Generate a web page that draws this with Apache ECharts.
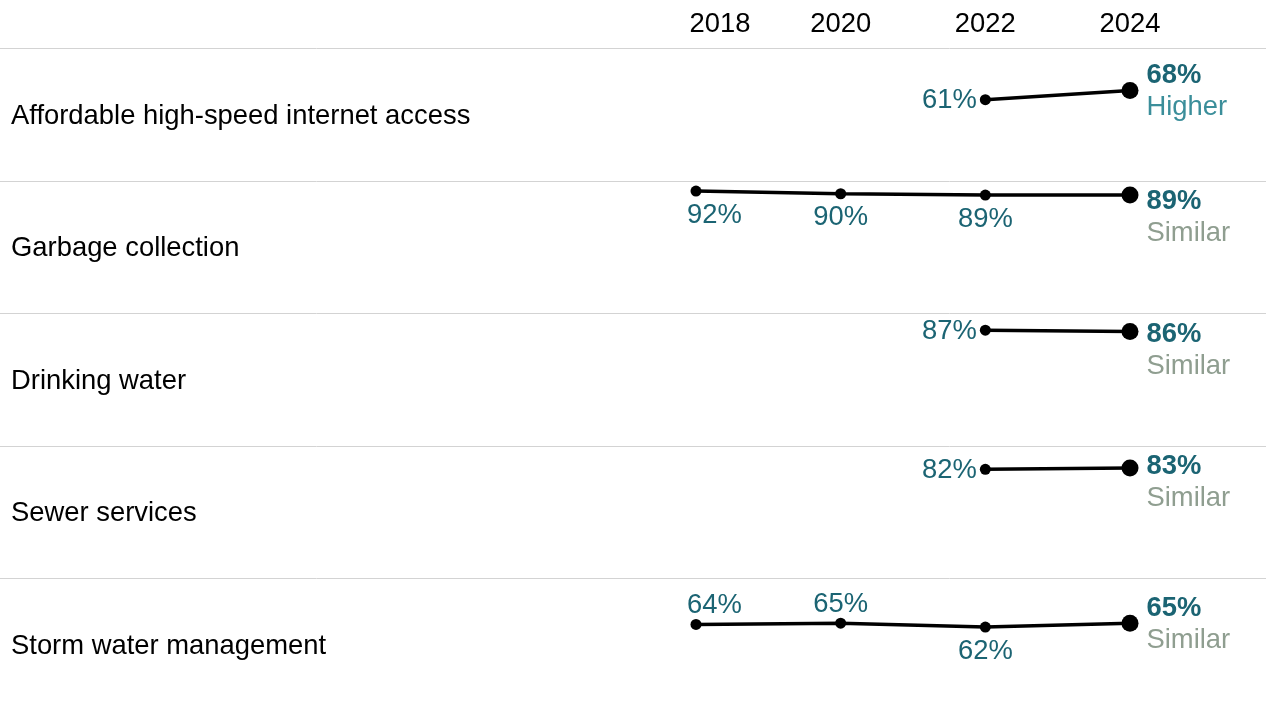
<!DOCTYPE html>
<html>
<head>
<meta charset="utf-8">
<script src="https://cdn.jsdelivr.net/npm/echarts@6/dist/echarts.min.js"></script>
<style>
  html, body { margin: 0; padding: 0; background: #fff; }
  #chart { width: 1266px; height: 707px; }
</style>
</head>
<body>
<div id="chart"></div>
<script>
// ---- data ----
const years = [2018, 2020, 2022, 2024];
const categories = [
  'Affordable high-speed internet access',
  'Garbage collection',
  'Drinking water',
  'Sewer services',
  'Storm water management'
];
const internetValues = [null, null, 61, 68];
const garbageValues = [92, 90, 89, 89];
const drinkingValues = [null, null, 87, 86];
const sewerValues = [null, null, 82, 83];
const stormValues = [64, 65, 62, 65];
const statusLabels = ['Higher', 'Similar', 'Similar', 'Similar', 'Similar'];

const rows = [internetValues, garbageValues, drinkingValues, sewerValues, stormValues];

// ---- styles / layout ----
const FONT = "'Liberation Sans', Arial, Helvetica, sans-serif";
const FS = 27.4;
const TOP = 48, ROW_H = 132.5, LEFT = 696, RIGHT = 136, W = 1266;
const VALUE_COLOR = '#1b6473';
const STATUS_COLOR = { Higher: '#3b8e9a', Similar: '#8f9e90' };
// label placement for non-final points (per row, per shown point)
const midLabelPos = [
  ['left'],
  ['bottom', 'bottom', 'bottom'],
  ['left'],
  ['left'],
  ['top', 'top', 'bottom']
];

const chart = echarts.init(document.getElementById('chart'), null, { renderer: 'canvas' });

const grids = [], xAxes = [], yAxes = [], series = [], graphics = [];

rows.forEach((vals, i) => {
  const rowTop = TOP + i * ROW_H;
  grids.push({ left: LEFT, right: RIGHT, top: rowTop, height: ROW_H });
  xAxes.push({
    type: 'value', gridIndex: i, min: 2018, max: 2024, interval: 2,
    position: 'top',
    axisLine: { show: false }, axisTick: { show: false }, splitLine: { show: false },
    axisLabel: {
      show: i === 0, margin: 10, color: '#000', fontSize: FS, fontFamily: FONT,
      formatter: v => (v === years[0] ? '{first|' + v + '}' : String(v)),
      rich: { first: { fontSize: FS, fontFamily: FONT, color: '#000', padding: [0, 0, 0, 48] } }
    }
  });
  yAxes.push({ type: 'value', gridIndex: i, min: 0, max: 100, show: false });

  const pts = [];
  years.forEach((y, j) => { if (vals[j] != null) pts.push([y, vals[j]]); });
  const data = pts.map((p, k) => {
    const last = k === pts.length - 1;
    if (last) {
      const pointOffset = (100 - p[1]) * ROW_H / 100;
      const shift = Math.max(0, 36 - pointOffset);
      return {
        value: p, symbolSize: 17,
        label: {
          show: true, position: 'right', distance: 8, offset: [0, shift + 1],
          formatter: '{v|' + p[1] + '%}\n{s|' + statusLabels[i] + '}',
          rich: {
            v: { fontSize: FS, fontWeight: 'bold', color: VALUE_COLOR, fontFamily: FONT, lineHeight: 32 },
            s: { fontSize: FS, color: STATUS_COLOR[statusLabels[i]], fontFamily: FONT, lineHeight: 32 }
          }
        }
      };
    }
    const pos = midLabelPos[i][k];
    const lbl = {
      show: true, position: pos, formatter: p[1] + '%',
      color: VALUE_COLOR, fontSize: FS, fontFamily: FONT,
      distance: pos === 'left' ? 3 : (pos === 'top' ? 0 : 5)
    };
    if (pos === 'left') lbl.offset = [0, 1];
    if (p[0] === years[0] && pos !== 'left') { lbl.align = 'left'; lbl.offset = [-9, 0]; }
    return { value: p, symbolSize: 11, label: lbl };
  });

  series.push({
    type: 'line', xAxisIndex: i, yAxisIndex: i, data,
    symbol: 'circle', clip: false, silent: true,
    lineStyle: { color: '#000', width: 3.5 },
    itemStyle: { color: '#000' }
  });

  graphics.push({
    type: 'line', silent: true,
    shape: { x1: 0, y1: Math.round(rowTop) + 0.5, x2: W, y2: Math.round(rowTop) + 0.5 },
    style: { stroke: '#d3d3d3', lineWidth: 1 }
  });
  graphics.push({
    type: 'text', silent: true, x: 11, y: rowTop + ROW_H / 2 + 2,
    style: { text: categories[i], fontSize: FS, fontFamily: FONT, fill: '#000', verticalAlign: 'middle', align: 'left' }
  });
});

chart.setOption({
  animation: false,
  backgroundColor: '#fff',
  grid: grids,
  xAxis: xAxes,
  yAxis: yAxes,
  series,
  graphic: graphics
});
</script>
</body>
</html>
